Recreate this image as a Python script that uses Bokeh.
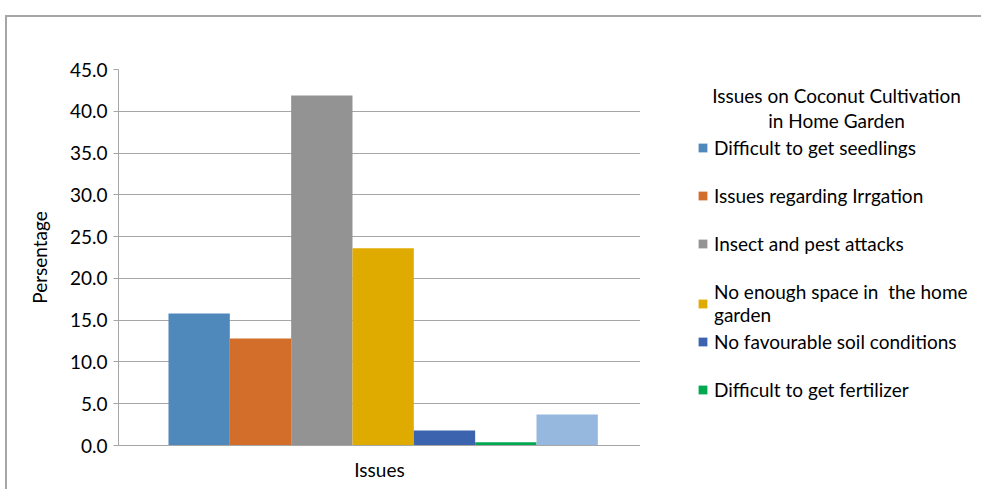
from bokeh.plotting import figure
from bokeh.layouts import row
from bokeh.models import (FactorRange, Range1d, Legend, LegendItem, SingleIntervalTicker,
                          NumeralTickFormatter, Label, ColumnDataSource)
from bokeh.transform import dodge
from bokeh.embed import file_html
from bokeh.resources import INLINE

category = ["Issues"]
series = [
    "Difficult to get seedlings",
    "Issues regarding Irrgation",
    "Insect and pest attacks",
    "No enough space in  the home\ngarden",
    "No favourable soil conditions",
    "Difficult to get fertilizer",
    "Other",
]
values = [15.8, 12.8, 41.9, 23.6, 1.8, 0.4, 3.7]
colors = ["#4F89BC", "#D26D2A", "#939393", "#E0AB00", "#3C64AE", "#00A94F", "#97B8DE"]
legend_title = ["Issues on Coconut Cultivation", "in Home Garden"]

FONT = "Lato"
FS = "19px"
GRID = "#a6a6a6"

# ---------------- chart ----------------
p = figure(width=633, height=472, x_range=FactorRange(*category), y_range=(0, 45),
           output_backend="svg", toolbar_location=None,
           min_border_left=111, min_border_right=0, min_border_top=52, min_border_bottom=44)
p.outline_line_color = None

bar_w = 0.1175
n = len(series)
for i, (name, v, c) in enumerate(zip(series, values, colors)):
    off = (i - (n - 1) / 2) * bar_w + 0.007
    p.vbar(x=dodge("x", off, range=p.x_range), top="top", width=bar_w,
           source=dict(x=category, top=[v]), fill_color=c, line_color=None)

p.yaxis.ticker = SingleIntervalTicker(interval=5)
p.yaxis.formatter = NumeralTickFormatter(format="0.0")
p.yaxis.axis_line_color = GRID
p.yaxis.major_tick_line_color = GRID
p.yaxis.major_tick_out = 5
p.yaxis.major_tick_in = 0
p.yaxis.minor_tick_line_color = None
p.yaxis.axis_label = "Persentage"
p.yaxis.axis_label_text_font = FONT
p.yaxis.axis_label_text_font_style = "normal"
p.yaxis.axis_label_text_font_size = FS
p.yaxis.axis_label_text_color = "#000000"
p.yaxis.axis_label_standoff = 16
p.yaxis.major_label_text_font = FONT
p.yaxis.major_label_text_font_size = FS
p.yaxis.major_label_text_color = "#000000"
p.yaxis.major_label_standoff = 6

p.xaxis.axis_line_color = GRID
p.xaxis.major_tick_line_color = None
p.xaxis.minor_tick_line_color = None
p.xaxis.major_label_text_font = FONT
p.xaxis.major_label_text_font_size = FS
p.xaxis.major_label_text_color = "#000000"
p.xaxis.major_label_standoff = 6

p.xgrid.grid_line_color = None
p.ygrid.grid_line_color = GRID
p.ygrid.grid_line_width = 1

# ---------------- legend panel ----------------
LW, LH = 341, 472
q = figure(width=LW, height=LH, x_range=Range1d(0, LW), y_range=Range1d(0, LH),
           output_backend="svg", toolbar_location=None,
           min_border_left=0, min_border_right=0, min_border_top=52, min_border_bottom=44)
q.axis.visible = False
q.grid.visible = False
q.outline_line_color = None

dummies = []
for c in colors[:6]:
    src = ColumnDataSource(dict(x=[0], top=[0]))
    dummies.append(q.vbar(x="x", top="top", width=0, source=src, fill_color=c, line_color=None))

common = dict(label_text_font=FONT, label_text_font_size=FS, label_text_color="#000000",
              glyph_width=11, glyph_height=11, label_standoff=6, label_height=22,
              spacing=25, border_line_color=None, background_fill_alpha=0,
              margin=0, padding=0)

legA = Legend(items=[LegendItem(label=series[i], renderers=[dummies[i]]) for i in range(4)],
              location=(57, 119), **common)
legB = Legend(items=[LegendItem(label=series[i], renderers=[dummies[i]]) for i in range(4, 6)],
              location=(57, 44), **common)
q.add_layout(legA, "center")
q.add_layout(legB, "center")

for k, t in enumerate(legend_title):
    q.add_layout(Label(x=196, y=350 - k * 25, x_units="screen", y_units="screen", text=t,
                       text_align="center", text_baseline="middle",
                       text_font=FONT, text_font_size=FS, text_color="#000000"))

layout = row(p, q, margin=(15, 0, 0, 5),
             styles={"border-top": "2px solid #a6a6a6", "border-left": "2px solid #a6a6a6"})

open("out.html", "w").write(file_html(layout, INLINE))
